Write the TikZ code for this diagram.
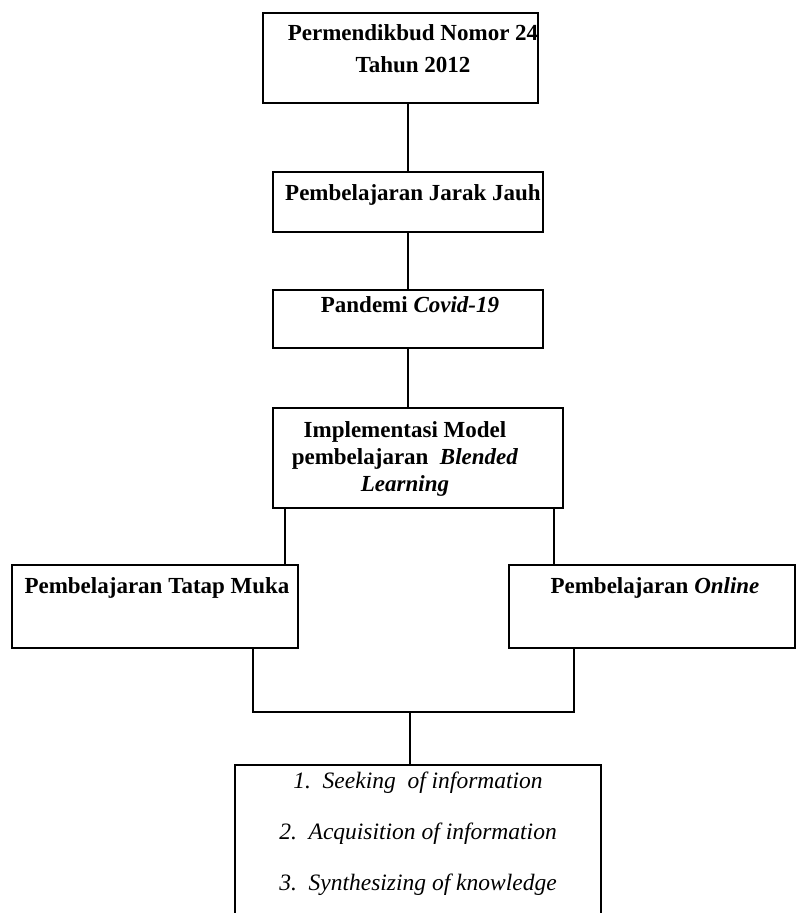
\documentclass[tikz,border=0pt]{standalone}
\usepackage{fontspec}
\setmainfont{Liberation Serif}
\usetikzlibrary{positioning}

\begin{document}
\begin{tikzpicture}[x=1pt, y=-1pt, line width=1.4pt,
  kotak/.style={draw, inner sep=0pt},
  judul/.style={font=\bfseries\fontsize{23}{32}\selectfont, align=center, inner sep=0pt},
  poin/.style={font=\itshape\fontsize{23.5}{51}\selectfont, align=center, inner sep=0pt}]
\useasboundingbox (0,0) rectangle (796,913);
\clip (0,0) rectangle (796,913);
% kotak-kotak
\node[kotak, minimum width=275pt, minimum height=90pt]  (aturan)  at (400.5,58) {};
\node[kotak, minimum width=270pt, minimum height=60pt]  (pjj)     at (408,202) {};
\node[kotak, minimum width=270pt, minimum height=58pt]  (pandemi) at (408,319) {};
\node[kotak, minimum width=290pt, minimum height=100pt] (model)   at (418,458) {};
\node[kotak, minimum width=286pt, minimum height=83pt]  (tatap)   at (155,606.5) {};
\node[kotak, minimum width=286pt, minimum height=83pt]  (daring)  at (652,606.5) {};
\node[kotak, minimum width=366pt, minimum height=180pt] (hasil)   at (418,855) {};
% teks
\node[judul] (taturan)  at (413,49)  {Permendikbud Nomor 24\\Tahun 2012};
\node[judul] (tpjj)     at (413,195) {Pembelajaran Jarak Jauh};
\node[judul] (tpandemi) at (410,305) {Pandemi \textit{Covid-19}};
\node[judul, font=\bfseries\fontsize{23}{27}\selectfont] (tmodel) at (405,459)
  {Implementasi Model\\pembelajaran\ \ \textit{Blended}\\\textit{Learning}};
\node[judul] (ttatap)  at (157,588) {Pembelajaran Tatap Muka};
\node[judul] (tdaring) at (655,588) {Pembelajaran \textit{Online}};
\node[poin]  (thasil)  at (418,834)
  {1.\ \ Seeking\ \ of information\\2.\ \ Acquisition of information\\3.\ \ Synthesizing of knowledge};
% titik bantu
\coordinate (kakimodelkiri)  at (285,0);
\coordinate (kakimodelkanan) at (554,0);
\coordinate (kakikiri)  at (253,712);
\coordinate (kakikanan) at (574,712);
\coordinate (gabung)    at (410,712);
% garis
\draw (pjj.north) -- (pjj.north |- aturan.south);
\draw (pjj.south) -- (pandemi.north);
\draw (pandemi.south) -- (pandemi.south |- model.north);
\draw (model.south -| kakimodelkiri) -- (tatap.north -| kakimodelkiri);
\draw (model.south -| kakimodelkanan) -- (daring.north -| kakimodelkanan);
\draw (tatap.south -| kakikiri) -- (kakikiri) -- (kakikanan) -- (daring.south -| kakikanan);
\draw (gabung) -- (hasil.north -| gabung);
\end{tikzpicture}
\end{document}
